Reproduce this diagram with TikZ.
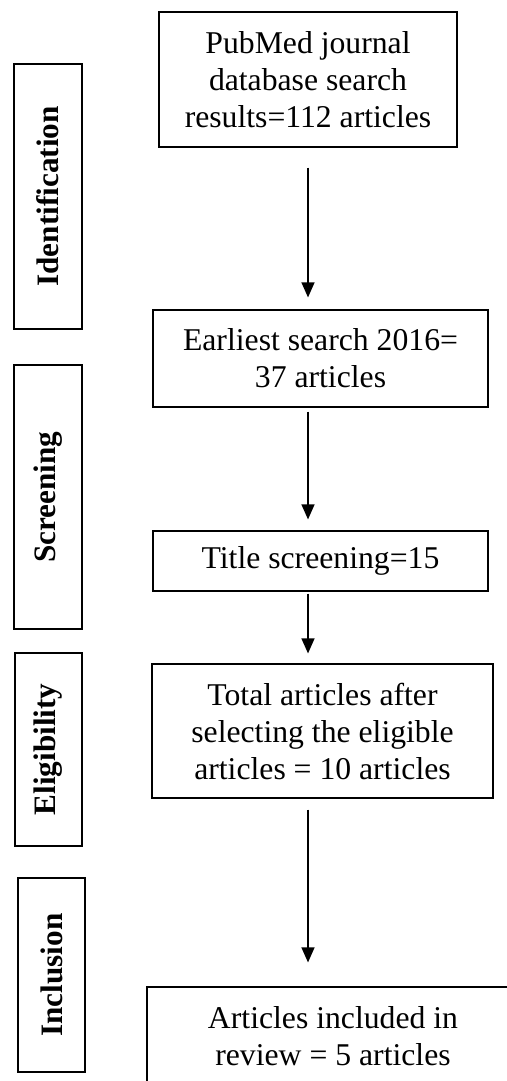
\documentclass[tikz,border=0pt]{standalone}
\usepackage{fontspec}
\setmainfont{Liberation Serif}
\usetikzlibrary{arrows.meta}

\begin{document}
\begin{tikzpicture}[
  x=1pt,y=-1pt,
  box/.style={draw,line width=0.6pt,align=center,inner sep=0pt,font=\fontsize{15.85}{18.5}\selectfont},
  stage/.style={draw,line width=0.6pt,rotate=90,inner sep=0pt,font=\fontsize{15.6}{18.5}\selectfont\bfseries},
  arr/.style={line width=0.6pt,-{Triangle[length=7.5pt,width=6.5pt]}}
]
\useasboundingbox (0,0) rectangle (253.5,540.5);
\clip (0,0) rectangle (253.5,540.5);

\node[stage,minimum width=132.5pt,minimum height=34pt] (ident) at (24,98.25) {Identification};
\node[stage,minimum width=132pt,minimum height=34pt] (screen) at (24,248.5) {Screening};
\node[stage,minimum width=96.5pt,minimum height=33.5pt] (elig) at (24.25,374.75) {Eligibility};
\node[stage,minimum width=97pt,minimum height=33.5pt] (incl) at (25.75,487.5) {Inclusion};

\node[box,minimum width=149pt,minimum height=67.5pt] (search) at (154,39.75)
  {PubMed journal\\database search\\results=112 articles};
\node[box,minimum width=167.5pt,minimum height=48.5pt] (earliest) at (160.25,179.25)
  {Earliest search 2016=\\37 articles};
\node[box,minimum width=167.5pt,minimum height=30pt] (title) at (160.25,280.5)
  {Title screening=15};
\node[box,minimum width=170.5pt,minimum height=67pt] (total) at (161.25,365.5)
  {Total articles after\\selecting the eligible\\articles = 10 articles};
\node[box,minimum width=186pt,minimum height=49pt] (review) at (166.5,518)
  {Articles included in\\review = 5 articles};

\draw[arr,shorten <=10pt,shorten >=6pt] (search.south) -- (search.south |- earliest.north);
\draw[arr,shorten <=2pt,shorten >=5.5pt] (search.south |- earliest.south) -- (search.south |- title.north);
\draw[arr,shorten <=1pt,shorten >=5pt] (search.south |- title.south) -- (search.south |- total.north);
\draw[arr,shorten <=5.5pt,shorten >=12pt] (search.south |- total.south) -- (search.south |- review.north);
\end{tikzpicture}
\end{document}
